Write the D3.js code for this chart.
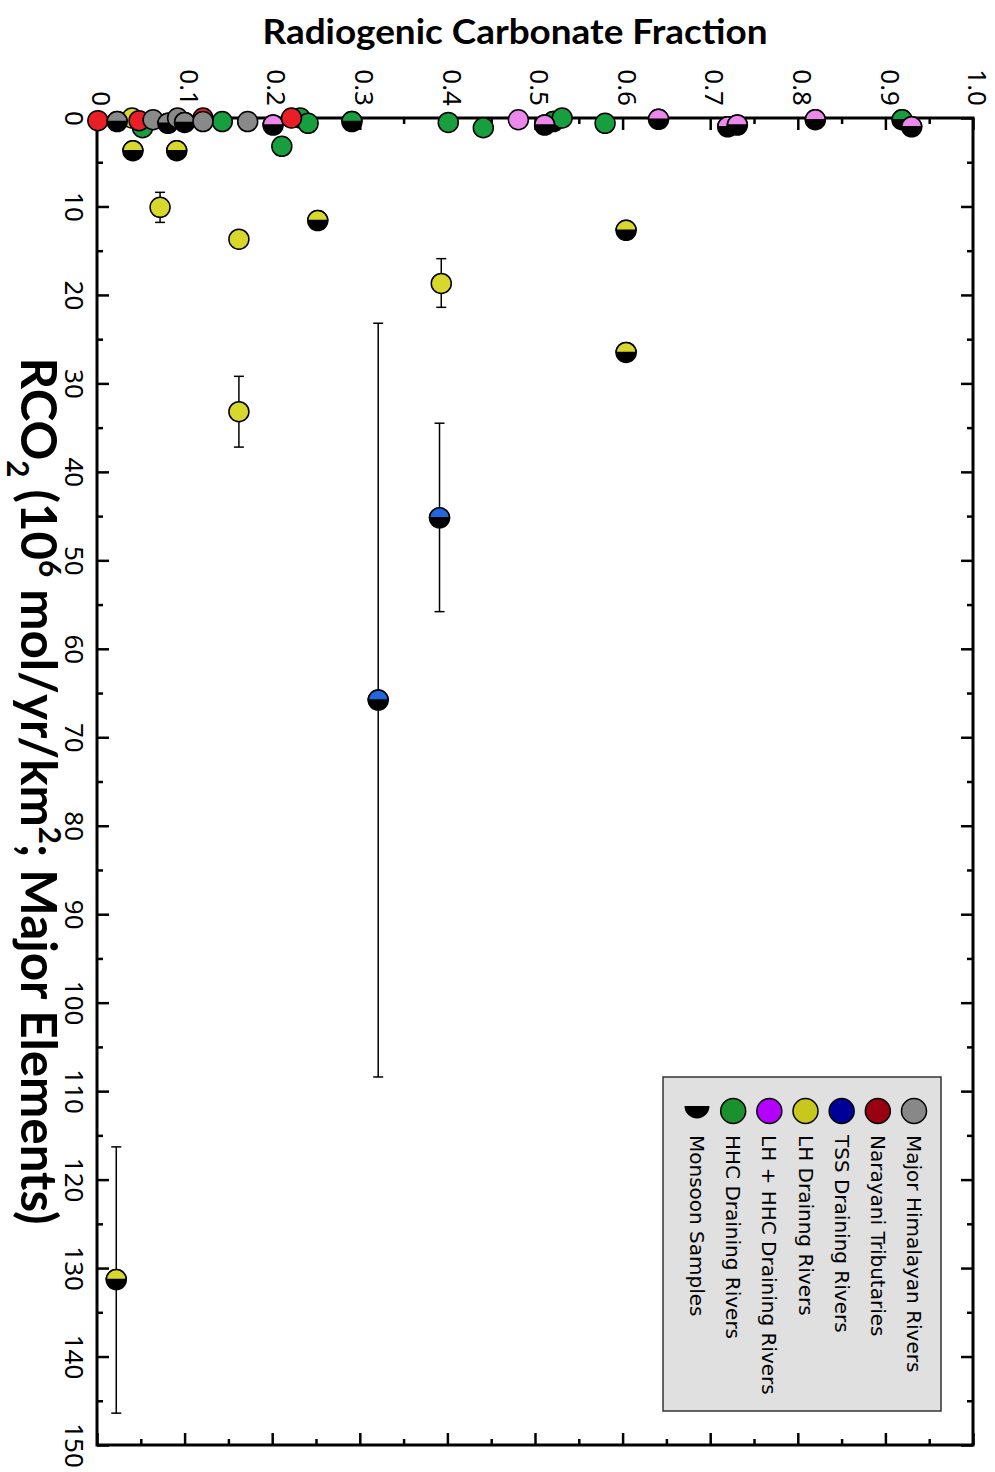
<!DOCTYPE html>
<html><head><meta charset="utf-8">
<script src="https://cdn.jsdelivr.net/npm/d3@7"></script>
<style>body{margin:0;background:#fff}</style>
</head><body>
<svg id="c" width="995" height="1472"></svg>
<script>
// ---------- data ----------
const fracTicks = [0,0.1,0.2,0.3,0.4,0.5,0.6,0.7,0.8,0.9,1.0];
const fracTickLabels = ["0","0.1","0.2","0.3","0.4","0.5","0.6","0.7","0.8","0.9","1.0"];
const fracMinor = [0.05,0.15,0.25,0.35,0.45,0.55,0.65,0.75,0.85,0.95];
const rcoTicks = [0,10,20,30,40,50,60,70,80,90,100,110,120,130,140,150];
const rcoMinor = [5,15,25,35,45,55,65,75,85,95,105,115,125,135,145];

const seriesNames = ["Major Himalayan Rivers","Narayani Tributaries","TSS Draining Rivers","LH Drainng Rivers","LH + HHC Draining Rivers","HHC Draining Rivers"];
const plotColors = ["#898989","#e81f26","#2266dd","#d8d82c","#ec88ec","#179e3e"];
const legendColors = ["#888888","#990012","#000099","#c8c81c","#b400ff","#1a902e"];

// [fraction, RCO2, monsoon(1/0), errLow, errHigh]
const grayPts = [[0.023,0.4,1],[0.064,0.2,0],[0.081,0.6,1],[0.092,0.0,0],[0.100,0.5,1],[0.121,0.4,0],[0.172,0.4,0]];
const redPts = [[0.001,0.3,0],[0.048,0.3,0],[0.121,0.0,0],[0.222,0.0,0]];
const bluePts = [[0.321,65.8,1,23.2,108.4],[0.391,45.2,1,34.5,55.8]];
const yellowPts = [[0.040,0.0,0],[0.041,3.7,1],[0.091,3.7,1],[0.072,10.1,0,8.4,11.8],[0.162,13.7,0],[0.252,11.6,1],
  [0.393,18.7,0,15.9,21.4],[0.604,12.7,1],[0.604,26.5,1],[0.162,33.2,0,29.2,37.2],[0.022,131.3,1,116.3,146.4]];
const pinkPts = [[0.201,0.8,1],[0.481,0.2,0],[0.511,0.8,1],[0.641,0.15,1],[0.720,1.0,1],[0.731,0.8,1],[0.820,0.2,1],[0.930,1.0,1]];
const greenPts = [[0.052,1.1,0],[0.143,0.4,0],[0.211,3.2,0],[0.232,0.0,0],[0.241,0.6,0],[0.291,0.4,1],[0.401,0.5,0],
  [0.441,1.1,0],[0.521,0.4,1],[0.531,0.0,0],[0.580,0.6,0],[0.919,0.2,1]];

// draw order (index into seriesNames)
const drawOrder = [[3,yellowPts],[5,greenPts],[4,pinkPts],[1,redPts],[0,grayPts],[2,bluePts]];

// ---------- layout ----------
const svg = d3.select("#c");
const L=97, R=973, T=118, B=1445;
const x = d3.scaleLinear([0,1],[L,R]);
const y = d3.scaleLinear([0,150],[T,B]);
const tickFont = "'Noto Sans', sans-serif";

// axes (ticks pointing inward)
function styleAxis(g){ g.select(".domain").remove(); g.selectAll("line").attr("stroke","#000").attr("stroke-width",2.5); }
svg.append("g").attr("transform",`translate(0,${T})`)
  .call(d3.axisTop(x).tickValues(fracMinor).tickSize(-6).tickFormat("")).call(styleAxis);
const topAx = svg.append("g").attr("transform",`translate(0,${T})`)
  .call(d3.axisTop(x).tickValues(fracTicks).tickSize(-12).tickFormat((d,i)=>fracTickLabels[i])).call(styleAxis);
topAx.selectAll("text").attr("x",0).attr("y",0).attr("dy","0.2em")
  .attr("transform","translate(0,-12) rotate(90)").attr("text-anchor","end")
  .attr("font-family",tickFont).attr("font-size",26).attr("fill","#000");

svg.append("g").attr("transform",`translate(0,${B})`)
  .call(d3.axisBottom(x).tickValues(fracMinor).tickSize(-6).tickFormat("")).call(styleAxis);
svg.append("g").attr("transform",`translate(0,${B})`)
  .call(d3.axisBottom(x).tickValues(fracTicks).tickSize(-12).tickFormat("")).call(styleAxis);

svg.append("g").attr("transform",`translate(${L},0)`)
  .call(d3.axisLeft(y).tickValues(rcoMinor).tickSize(-6).tickFormat("")).call(styleAxis);
const leftAx = svg.append("g").attr("transform",`translate(${L},0)`)
  .call(d3.axisLeft(y).tickValues(rcoTicks).tickSize(-12).tickFormat(d3.format("d"))).call(styleAxis);
leftAx.selectAll("text").attr("x",0).attr("y",0).attr("dy","0.2em")
  .attr("transform","translate(-27,0) rotate(90)").attr("text-anchor","middle")
  .attr("font-family",tickFont).attr("font-size",26).attr("fill","#000");

svg.append("g").attr("transform",`translate(${R},0)`)
  .call(d3.axisRight(y).tickValues(rcoMinor).tickSize(-6).tickFormat("")).call(styleAxis);
svg.append("g").attr("transform",`translate(${R},0)`)
  .call(d3.axisRight(y).tickValues(rcoTicks).tickSize(-12).tickFormat("")).call(styleAxis);

// frame
svg.append("rect").attr("x",L).attr("y",T).attr("width",R-L).attr("height",B-T)
  .attr("fill","none").attr("stroke","#000").attr("stroke-width",3);

// titles
svg.append("text").attr("x",515).attr("y",44).attr("text-anchor","middle")
  .attr("font-family","Lato, sans-serif").attr("font-weight","bold").attr("font-size",34)
  .attr("textLength",505).attr("lengthAdjust","spacingAndGlyphs")
  .text("Radiogenic Carbonate Fraction");

const yt = svg.append("text").attr("transform","translate(21,791) rotate(90)").attr("text-anchor","middle")
  .attr("font-family","Lato, sans-serif").attr("font-weight","bold").attr("font-size",50)
  .attr("textLength",867).attr("lengthAdjust","spacingAndGlyphs");
yt.append("tspan").text("RCO");
yt.append("tspan").attr("font-size",30).attr("dy",14).text("2");
yt.append("tspan").attr("dy",-14).text(" (10");
yt.append("tspan").attr("font-size",30).attr("dy",-18).text("6");
yt.append("tspan").attr("dy",18).text(" mol/yr/km");
yt.append("tspan").attr("font-size",30).attr("dy",-18).text("2");
yt.append("tspan").attr("dy",18).text("; Major Elements)");

// error bars
const plot = svg.append("g");
drawOrder.forEach(([si,pts])=>{
  pts.filter(p=>p.length>3).forEach(p=>{
    const g = plot.append("g").attr("stroke","#000").attr("stroke-width",1.5);
    g.append("line").attr("x1",x(p[0])).attr("x2",x(p[0])).attr("y1",y(p[3])).attr("y2",y(p[4]));
    g.append("line").attr("x1",x(p[0])-5).attr("x2",x(p[0])+5).attr("y1",y(p[3])).attr("y2",y(p[3]));
    g.append("line").attr("x1",x(p[0])-5).attr("x2",x(p[0])+5).attr("y1",y(p[4])).attr("y2",y(p[4]));
  });
});

// markers
const r = 10;
const topHalf = rr => `M${-rr},0A${rr},${rr} 0 0 1 ${rr},0Z`;
const botHalf = rr => `M${-rr},0A${rr},${rr} 0 0 0 ${rr},0Z`;
drawOrder.forEach(([si,pts])=>{
  pts.forEach(p=>{
    const g = plot.append("g").attr("transform",`translate(${x(p[0])},${y(p[1])})`);
    if(p[2]){
      g.append("circle").attr("r",r).attr("fill","#000").attr("stroke","#000").attr("stroke-width",1.5);
      g.append("path").attr("d",topHalf(r)).attr("fill",plotColors[si]).attr("stroke","#000").attr("stroke-width",1.5);
    } else {
      g.append("circle").attr("r",r).attr("fill",plotColors[si]).attr("stroke","#000").attr("stroke-width",1.5);
    }
  });
});

// legend
const lg = svg.append("g");
lg.append("rect").attr("x",663).attr("y",1077).attr("width",278).attr("height",334)
  .attr("fill","#e0e0e0").attr("stroke","#333").attr("stroke-width",1.5);
const legendItems = seriesNames.concat(["Monsoon Samples"]);
const lx = d3.scalePoint().domain(d3.range(legendItems.length)).range([914,697]);
legendItems.forEach((name,i)=>{
  const cx = lx(i), cy = 1111;
  if(i<seriesNames.length){
    lg.append("circle").attr("cx",cx).attr("cy",cy).attr("r",12.5).attr("fill",legendColors[i])
      .attr("stroke","#000").attr("stroke-width",1.5);
  } else {
    lg.append("path").attr("transform",`translate(${cx},${cy-5})`).attr("d",botHalf(12.5)).attr("fill","#000");
  }
  lg.append("text").attr("transform",`translate(${cx},1135) rotate(90)`).attr("dy","0.35em")
    .attr("font-family","'DejaVu Sans', sans-serif").attr("font-size",20).attr("fill","#000").text(name);
});
</script>
</body></html>
